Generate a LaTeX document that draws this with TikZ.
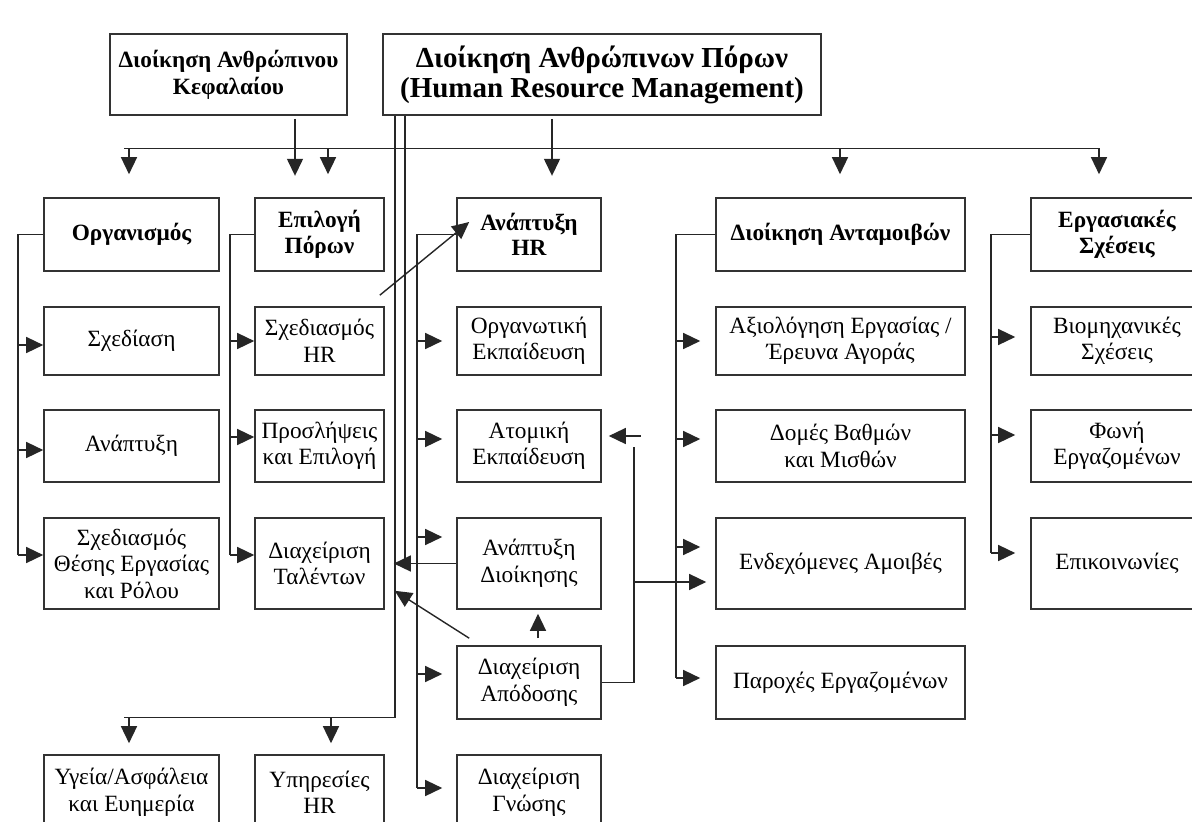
\documentclass[tikz,border=0pt]{standalone}
\usepackage{fontspec}
\setmainfont{Liberation Serif}
\usetikzlibrary{arrows.meta}
\begin{document}
\begin{tikzpicture}[x=1pt,y=-1pt,
  box/.style={draw=black!80, line width=1.6pt, inner sep=0pt, align=center,
              font=\fontsize{23.3}{26.5}\selectfont},
  hdr/.style={box, font=\fontsize{23.3}{25.5}\selectfont\bfseries},
  ln/.style={draw=black!85, line width=1.4pt},
  arr/.style={ln, -{Triangle[length=17pt,width=16pt]}},
  c1/.style={minimum width=175pt},
  c2/.style={minimum width=129pt},
  c3/.style={minimum width=144pt},
  c4/.style={minimum width=249pt},
  c5/.style={minimum width=172pt},
]
\useasboundingbox (0,0) rectangle (1192,822);
\clip (0,0) rectangle (1192,822);
\fill[white] (0,0) rectangle (1192,822);

% top boxes
\node[box, minimum width=237pt, minimum height=81pt, font=\fontsize{23.3}{27}\selectfont\bfseries]
  (hck) at (228.5,74.5) {Διοίκηση Ανθρώπινου\\Κεφαλαίου};
\node[box, minimum width=438pt, minimum height=81pt, font=\fontsize{29}{30}\selectfont\bfseries]
  (hrm) at (602,74.5) {Διοίκηση Ανθρώπινων Πόρων\\(Human Resource Management)};

% row 2 headers
\node[hdr, c1, minimum height=73pt] (org) at (131.5,234.5) {Οργανισμός};
\node[hdr, c2, minimum height=73pt] (sel) at (319.5,234.5) {Επιλογή\\Πόρων};
\node[hdr, c3, minimum height=73pt] (dev) at (529,234.5) {Ανάπτυξη\\HR};
\node[hdr, c4, minimum height=73pt] (rew) at (840.5,234.5) {Διοίκηση Ανταμοιβών};
\node[hdr, c5, minimum height=73pt] (rel) at (1117,234.5) {Εργασιακές\\Σχέσεις};

% row 3
\node[box, c1, minimum height=68pt] (design) at (131.5,341) {Σχεδίαση};
\node[box, c2, minimum height=68pt] (hrplan) at (319.5,341) {Σχεδιασμός\\HR};
\node[box, c3, minimum height=68pt] (orgtr) at (529,341) {Οργανωτική\\Εκπαίδευση};
\node[box, c4, minimum height=68pt] (jobev) at (840.5,341) {Αξιολόγηση Εργασίας /\\Έρευνα Αγοράς};
\node[box, c5, minimum height=68pt] (indrel) at (1117,341) {Βιομηχανικές\\Σχέσεις};

% row 4
\node[box, c1, minimum height=72pt] (anapt) at (131.5,446) {Ανάπτυξη};
\node[box, c2, minimum height=72pt] (recr) at (319.5,446) {Προσλήψεις\\και Επιλογή};
\node[box, c3, minimum height=72pt] (indtr) at (529,446) {Ατομική\\Εκπαίδευση};
\node[box, c4, minimum height=72pt] (grades) at (840.5,446) {Δομές Βαθμών\\και Μισθών};
\node[box, c5, minimum height=72pt] (voice) at (1117,446) {Φωνή\\Εργαζομένων};

% row 5
\node[box, c1, minimum height=91pt] (jobd) at (131.5,563.5) {Σχεδιασμός\\Θέσης Εργασίας\\και Ρόλου};
\node[box, c2, minimum height=91pt] (talent) at (319.5,563.5) {Διαχείριση\\Ταλέντων};
\node[box, c3, minimum height=91pt] (mgmt) at (529,563.5) {Ανάπτυξη\\Διοίκησης};
\node[box, c4, minimum height=91pt] (contin) at (840.5,563.5) {Ενδεχόμενες Αμοιβές};
\node[box, c5, minimum height=91pt] (comm) at (1117,563.5) {Επικοινωνίες};

% row 6
\node[box, c3, minimum height=73pt] (perf) at (529,682.5) {Διαχείριση\\Απόδοσης};
\node[box, c4, minimum height=73pt] (benef) at (840.5,682.5) {Παροχές Εργαζομένων};

% row 7
\node[box, c1, minimum height=75pt] (health) at (131.5,792.5) {Υγεία/Ασφάλεια\\και Ευημερία};
\node[box, c2, minimum height=75pt] (hrserv) at (319.5,792.5) {Υπηρεσίες\\HR};
\node[box, c3, minimum height=75pt] (know) at (529,792.5) {Διαχείριση\\Γνώσης};

% lane coordinates
\coordinate (L1) at (18,0);
\coordinate (L2) at (230,0);
\coordinate (L3) at (417,0);
\coordinate (L4) at (676,0);
\coordinate (L5) at (991,0);
\coordinate (D1) at (395,0);
\coordinate (D2) at (405,0);
\coordinate (P) at (634,0);

% bus
\draw[ln] ([xshift=-7.5pt,yshift=49pt]org.north) -- ([xshift=-18pt,yshift=49pt]rel.north);
\draw[arr] ([xshift=66.5pt,yshift=-3pt]hck.south) -- ++(0,57);
\draw[arr] ([xshift=-50pt,yshift=-3pt]hrm.south) -- ++(0,57);
\draw[arr] ([xshift=-2.5pt,yshift=49pt]org.north) -- ++(0,26);
\draw[arr] ([xshift=8.5pt,yshift=49pt]sel.north) -- ++(0,26);
\draw[arr] ([xshift=-0.5pt,yshift=49pt]rew.north) -- ++(0,26);
\draw[arr] ([xshift=-18pt,yshift=49pt]rel.north) -- ++(0,26);

% lane 1
\draw[ln] (org.west) -| ([yshift=8.5pt]jobd.west -| L1);
\draw[arr] ([yshift=-4pt]design.west -| L1) -- ([yshift=-4pt]design.west);
\draw[arr] ([yshift=-4pt]anapt.west -| L1) -- ([yshift=-4pt]anapt.west);
\draw[arr] ([yshift=8.5pt]jobd.west -| L1) -- ([yshift=8.5pt]jobd.west);

% lane 2
\draw[ln] (sel.west) -| ([yshift=8.5pt]talent.west -| L2);
\draw[arr] (hrplan.west -| L2) -- (hrplan.west);
\draw[arr] ([yshift=9pt]recr.west -| L2) -- ([yshift=9pt]recr.west);
\draw[arr] ([yshift=8.5pt]talent.west -| L2) -- ([yshift=8.5pt]talent.west);

% lane 3
\draw[ln] (dev.west) -| ([yshift=4.5pt]know.west -| L3);
\draw[arr, shorten >=14pt] (orgtr.west -| L3) -- (orgtr.west);
\draw[arr, shorten >=14pt] ([yshift=7pt]indtr.west -| L3) -- ([yshift=7pt]indtr.west);
\draw[arr, shorten >=14pt] ([yshift=26.5pt]mgmt.west -| L3) -- ([yshift=26.5pt]mgmt.west);
\draw[arr, shorten >=14pt] ([yshift=8.5pt]perf.west -| L3) -- ([yshift=8.5pt]perf.west);
\draw[arr, shorten >=14pt] ([yshift=4.5pt]know.west -| L3) -- ([yshift=4.5pt]know.west);

% lane 4
\draw[ln] (rew.west) -| ([yshift=4.5pt]benef.west -| L4);
\draw[arr, shorten >=15pt] (jobev.west -| L4) -- (jobev.west);
\draw[arr, shorten >=15pt] ([yshift=7pt]grades.west -| L4) -- ([yshift=7pt]grades.west);
\draw[arr, shorten >=15pt] ([yshift=16.5pt]contin.west -| L4) -- ([yshift=16.5pt]contin.west);
\draw[arr, shorten >=15pt] ([yshift=4.5pt]benef.west -| L4) -- ([yshift=4.5pt]benef.west);

% lane 5
\draw[ln] (rel.west) -| ([yshift=10.5pt]comm.west -| L5);
\draw[arr, shorten >=15pt] ([yshift=4pt]indrel.west -| L5) -- ([yshift=4pt]indrel.west);
\draw[arr, shorten >=15pt] ([yshift=11pt]voice.west -| L5) -- ([yshift=11pt]voice.west);
\draw[arr, shorten >=15pt] ([yshift=10.5pt]comm.west -| L5) -- ([yshift=10.5pt]comm.west);

% double lines from HRM
\draw[ln] (hrm.south -| D1) -- ([yshift=37pt]health.north -| D1) -- ([xshift=-7.5pt,yshift=37pt]health.north);
\draw[arr] ([xshift=-2.5pt,yshift=37pt]health.north) -- ++(0,26);
\draw[arr] ([xshift=11.5pt,yshift=37pt]hrserv.north) -- ++(0,26);
\draw[ln] (hrm.south -| D2) -- (mgmt.west -| D2);

% cross links
\draw[arr] (mgmt.west) -- ([xshift=9pt]talent.east);
\draw[arr] ([xshift=-5pt,yshift=11pt]hrplan.north east) -- ([xshift=13pt,yshift=12.5pt]dev.west);
\draw[arr] ([xshift=13pt,yshift=7pt]perf.north west) -- ([xshift=10pt,yshift=19pt]talent.south east);
\draw[arr] ([xshift=9pt,yshift=7pt]perf.north) -- ([xshift=9pt,yshift=-4pt]mgmt.south);
\draw[ln] (perf.east) -- (perf.east -| P) -- ([yshift=-1pt]indtr.east -| P);
\draw[arr, shorten >=9pt] ([yshift=-18.5pt]contin.west -| P) -- ([yshift=-18.5pt]contin.west);
\draw[arr] ([xshift=39pt,yshift=10pt]indtr.east) -- ([xshift=7pt,yshift=10pt]indtr.east);
\end{tikzpicture}
\end{document}
